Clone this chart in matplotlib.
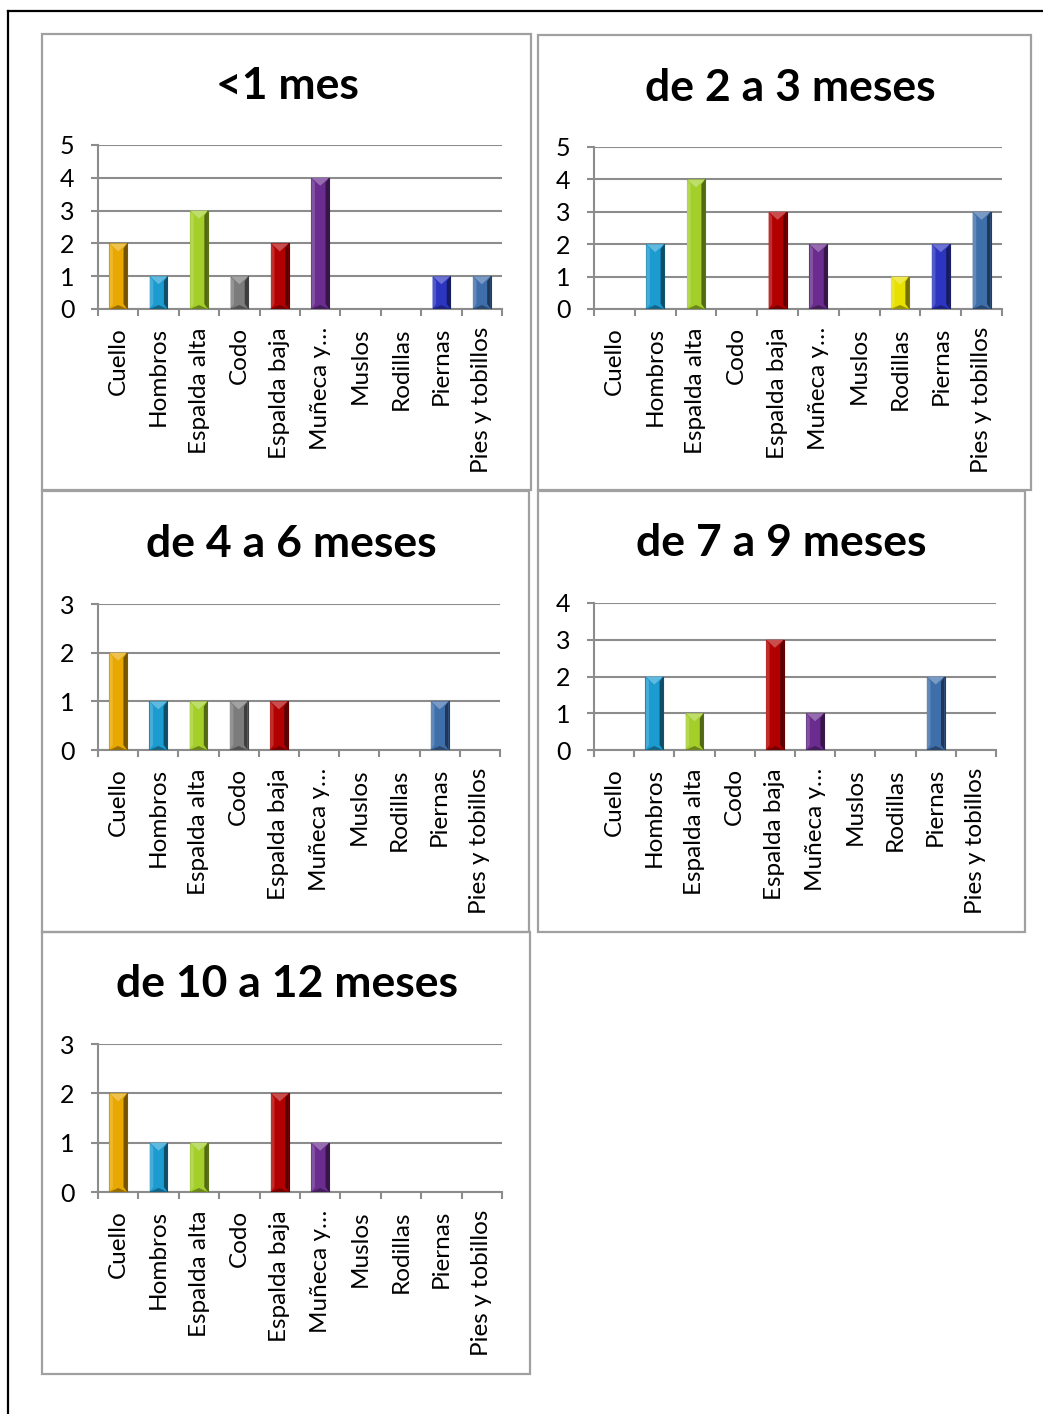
import matplotlib
matplotlib.use("Agg")
import matplotlib.pyplot as plt
import matplotlib.colors as mcolors
from matplotlib.patches import Rectangle, Polygon
from matplotlib.lines import Line2D
import numpy as np

plt.rcParams['font.family'] = ['Lato', 'DejaVu Sans']

W, H = 1043, 1414

categories = ['Cuello', 'Hombros', 'Espalda alta', 'Codo', 'Espalda baja',
              'Muñeca y…', 'Muslos', 'Rodillas', 'Piernas', 'Pies y tobillos']

titles = ['<1 mes', 'de 2 a 3 meses', 'de 4 a 6 meses', 'de 7 a 9 meses', 'de 10 a 12 meses']

menos_1_mes = [2, 1, 3, 1, 2, 4, 0, 0, 1, 1]
de_2_a_3 = [0, 2, 4, 0, 3, 2, 0, 1, 2, 3]
de_4_a_6 = [2, 1, 1, 1, 1, 0, 0, 0, 1, 0]
de_7_a_9 = [0, 2, 1, 0, 3, 1, 0, 0, 2, 0]
de_10_a_12 = [2, 1, 1, 0, 2, 1, 0, 0, 0, 0]
series = [menos_1_mes, de_2_a_3, de_4_a_6, de_7_a_9, de_10_a_12]
y_max = [5, 5, 3, 4, 3]

# colours per category (excel "vary colours by point")
base_colors = ['#E8A800', '#1C9BD0', '#A4CF2A', '#7C7C7C', '#B20000',
               '#6A2C8E', '#8E8E8E', '#E8E000', '#2B35C0', '#3F6FAB']
slate = '#3F6FAB'

# pixel boxes: panel frame, plot area, title centre
panels = [(42, 34, 531, 490), (538, 35, 1031, 490), (42, 491, 529, 932),
          (538, 491, 1025, 932), (42, 932, 530, 1374)]
plot_areas = [(98, 145, 502, 309), (594, 147, 1002, 309), (98, 604, 500, 750),
              (594, 603, 996, 750), (98, 1044, 502, 1192)]
title_pos = [(287, 86), (790, 88), (291, 544), (781, 543), (287, 984)]


def fig_rect(x0, y0, x1, y1):
    return [x0 / W, 1 - y1 / H, (x1 - x0) / W, (y1 - y0) / H]


def shade(c, f):
    r, g, b = mcolors.to_rgb(c)
    if f >= 0:
        return (r + (1 - r) * f, g + (1 - g) * f, b + (1 - b) * f)
    return (r * (1 + f), g * (1 + f), b * (1 + f))


def bevel_bar(ax, x, h, color, px_per_unit, w=0.44):
    if h <= 0:
        return
    xl, xr, xc = x - w / 2, x + w / 2, x
    bx = w * 0.2
    by = 5.0 / px_per_unit
    ax.add_patch(Rectangle((xl, 0), w, h, facecolor=color, edgecolor=shade(color, -0.45),
                           lw=0.8, zorder=3))
    ax.add_patch(Polygon([(xl, 0), (xl + bx, by), (xl + bx, h - by), (xl, h)],
                         closed=True, facecolor=shade(color, 0.18), lw=0, zorder=4))
    ax.add_patch(Polygon([(xr, 0), (xr - bx, by), (xr - bx, h - by), (xr, h)],
                         closed=True, facecolor=shade(color, -0.5), lw=0, zorder=4))
    ax.add_patch(Polygon([(xl, h), (xr, h), (xc, h - 1.6 * by)],
                         closed=True, facecolor=shade(color, 0.3), lw=0, zorder=4))
    ax.add_patch(Polygon([(xl, 0), (xr, 0), (xc, 0.8 * by)],
                         closed=True, facecolor=shade(color, -0.35), lw=0, zorder=4))


fig = plt.figure(figsize=(W / 100, H / 100), dpi=100)

# outer black frame (left and top only visible)
fig.add_artist(Line2D([8 / W, 8 / W], [0, 1 - 11 / H], color='black', lw=1.6))
fig.add_artist(Line2D([8 / W, 1], [1 - 11 / H, 1 - 11 / H], color='black', lw=1.6))

grid_c = '#8C8C8C'
for i in range(5):
    x0, y0, x1, y1 = panels[i]
    fig.add_artist(Rectangle((x0 / W, 1 - y1 / H), (x1 - x0) / W, (y1 - y0) / H,
                             transform=fig.transFigure, fill=False,
                             edgecolor='#A0A0A0', lw=1.6))
    tx, ty = title_pos[i]
    fig.text(tx / W, 1 - ty / H, titles[i], ha='center', va='center',
             fontsize=32, fontweight='bold')

    pa = plot_areas[i]
    ax = fig.add_axes(fig_rect(*pa))
    ax.set_facecolor('none')
    ymax = y_max[i]
    ax.set_xlim(-0.5, len(categories) - 0.5)
    ax.set_ylim(0, ymax)
    px_per_unit = (pa[3] - pa[1]) / ymax

    colors = list(base_colors)
    if i in (2, 3):
        colors[8] = slate
    for j, v in enumerate(series[i]):
        bevel_bar(ax, j, v, colors[j], px_per_unit)

    ax.set_yticks(range(ymax + 1))
    ax.yaxis.grid(True, color=grid_c, lw=1.5, zorder=0)
    ax.set_axisbelow(True)
    for s in ['top', 'right']:
        ax.spines[s].set_visible(False)
    for s in ['left', 'bottom']:
        ax.spines[s].set_color(grid_c)
        ax.spines[s].set_linewidth(1.5)
    ax.tick_params(axis='y', length=5, width=1.5, color=grid_c, labelsize=18, pad=12)

    ax.set_xticks(np.arange(len(categories)))
    ax.set_xticklabels(categories, rotation=90, fontsize=17.5)
    ax.set_xticks(np.arange(len(categories) + 1) - 0.5, minor=True)
    ax.tick_params(axis='x', which='major', length=0, pad=13)
    ax.tick_params(axis='x', which='minor', length=5, width=1.5, color=grid_c)

fig.savefig('out.png', dpi=100)
